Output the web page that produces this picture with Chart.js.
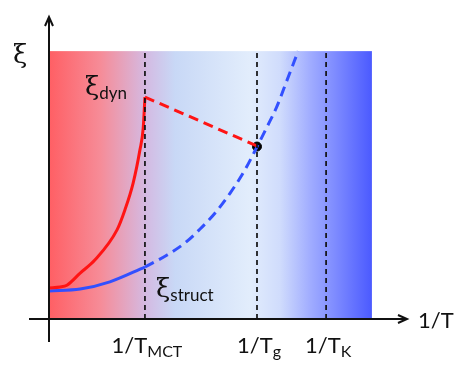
<!DOCTYPE html>
<html lang="en">
<head>
    <meta charset="UTF-8">
    <title>xi vs 1/T</title>
    <script src="https://cdn.jsdelivr.net/npm/chart.js@4.4.0/dist/chart.umd.min.js"></script>
    <style>
        html, body { margin: 0; padding: 0; background: #fff; }
        #wrap { width: 463px; height: 372px; }
    </style>
</head>
<body>
    <div id="wrap"><canvas id="xiChart" width="463" height="372"></canvas></div>
    <script>
        // data, arbitrary units (x = 1/T, y = xi)
        const dynSolidX = [0, 0.31, 0.5, 0.87, 1.28, 1.9, 2.12, 2.35, 2.54, 2.63, 2.68]
        const dynSolidY = [1.03, 1.06, 1.12, 1.52, 1.95, 2.95, 3.61, 4.5, 5.6, 6.3, 7.35]
        const dynDashX = [2.68, 5.81]
        const dynDashY = [7.35, 5.73]
        const structSolidX = [0, 0.87, 1.7, 2.68]
        const structSolidY = [0.93, 0.99, 1.23, 1.72]
        const structDashX = [2.68, 3.3, 3.8, 4.22, 4.64, 5.06, 5.47, 5.81, 6.09, 6.37, 6.65, 6.96]
        const structDashY = [1.72, 2.12, 2.52, 2.98, 3.51, 4.17, 4.93, 5.7, 6.36, 7.05, 7.91, 8.87]
        const crossing = [5.81, 5.71]
        const tempMarks = [2.68, 5.81, 7.74]
        const tempNames = ["MCT", "g", "K"]
        const regionRight = 9.02
        const regionTop = 8.87

        const pts = (xs, ys) => xs.map((x, i) => ({ x: x, y: ys[i] }))
        const vline = (x) => [{ x: x, y: 0 }, { x: x, y: regionTop }]

        const FONT = "Lato, 'Open Sans', sans-serif"
        const XI_FONT = "'DejaVu Serif', 'Liberation Serif', serif"

        let datasets = tempMarks.map(x => ({
            data: vline(x), borderColor: '#111', borderWidth: 1.7, borderDash: [5, 4],
            pointRadius: 0, showLine: true
        }))
        datasets.push(
            { data: pts(dynSolidX, dynSolidY), borderColor: 'rgb(255,20,20)', borderWidth: 3, pointRadius: 0, showLine: true, cubicInterpolationMode: 'monotone' },
            { data: pts(dynDashX, dynDashY), borderColor: 'rgb(255,20,20)', borderWidth: 3, borderDash: [10, 6], pointRadius: 0, showLine: true },
            { data: pts(structSolidX, structSolidY), borderColor: 'rgb(50,80,255)', borderWidth: 3, pointRadius: 0, showLine: true, cubicInterpolationMode: 'monotone' },
            { data: pts(structDashX, structDashY), borderColor: 'rgb(50,80,255)', borderWidth: 3, borderDash: [10, 6], pointRadius: 0, showLine: true, cubicInterpolationMode: 'monotone' },
            { data: [{ x: crossing[0], y: crossing[1] }], backgroundColor: '#000', borderColor: '#000', pointRadius: 4.5 }
        )

        // background gradient band
        const bandPlugin = {
            id: 'band',
            beforeDatasetsDraw(chart) {
                const { ctx, scales: { x, y } } = chart
                const l = x.getPixelForValue(0), r = x.getPixelForValue(regionRight)
                const t = y.getPixelForValue(regionTop), b = y.getPixelForValue(0)
                const g = ctx.createLinearGradient(l, 0, r, 0)
                g.addColorStop(0, 'rgb(255,95,100)')
                g.addColorStop(0.16, 'rgb(246,140,152)')
                g.addColorStop(0.30, 'rgb(212,186,226)')
                g.addColorStop(0.39, 'rgb(200,216,246)')
                g.addColorStop(0.62, 'rgb(226,237,252)')
                g.addColorStop(0.715, 'rgb(208,220,252)')
                g.addColorStop(0.81, 'rgb(160,172,255)')
                g.addColorStop(1, 'rgb(75,90,255)')
                ctx.save()
                ctx.fillStyle = g
                ctx.fillRect(l, t, r - l, b - t)
                ctx.restore()
            }
        }

        function subText(ctx, x, y, main, sub, mainFont, subFont, align, drop) {
            ctx.font = mainFont
            const w1 = ctx.measureText(main).width
            ctx.font = subFont
            const w2 = ctx.measureText(sub).width
            let start = x
            if (align === 'center') start = x - (w1 + w2) / 2
            ctx.textAlign = 'left'
            ctx.textBaseline = 'alphabetic'
            ctx.font = mainFont
            ctx.fillText(main, start, y)
            ctx.font = subFont
            ctx.fillText(sub, start + w1, y + drop)
        }

        // axes with arrows + labels
        const axesPlugin = {
            id: 'axes',
            afterDraw(chart) {
                const { ctx, chartArea: a, scales: { x, y } } = chart
                const x0 = x.getPixelForValue(0), y0 = y.getPixelForValue(0)
                ctx.save()
                ctx.strokeStyle = '#111'
                ctx.fillStyle = '#111'
                ctx.lineWidth = 2
                ctx.beginPath()
                ctx.moveTo(x0, y0 + 23); ctx.lineTo(x0, a.top)
                ctx.moveTo(x0 - 20, y0); ctx.lineTo(a.right, y0)
                ctx.stroke()
                ctx.beginPath()
                ctx.moveTo(x0 - 4, a.top + 9); ctx.lineTo(x0, a.top); ctx.lineTo(x0 + 4, a.top + 9)
                ctx.moveTo(a.right - 9, y0 - 4); ctx.lineTo(a.right, y0); ctx.lineTo(a.right - 9, y0 + 4)
                ctx.stroke()

                // tick labels
                tempMarks.forEach((v, i) => {
                    subText(ctx, x.getPixelForValue(v) + 2, y0 + 34, '1/T', tempNames[i],
                        '22px ' + FONT, '16px ' + FONT, 'center', 4)
                })
                // axis titles
                ctx.font = '22px ' + FONT
                ctx.textAlign = 'left'
                ctx.fillText('1/T', a.right + 11, y0 + 9)
                ctx.font = '26px ' + XI_FONT
                ctx.fillText('ξ', 13, 63)
                // curve labels
                subText(ctx, 85, 95, 'ξ', 'dyn', '26px ' + XI_FONT, '17px ' + FONT, 'left', 4)
                subText(ctx, 156, 297, 'ξ', 'struct', '26px ' + XI_FONT, '17px ' + FONT, 'left', 4)
                ctx.restore()
            }
        }

        new Chart(document.getElementById('xiChart').getContext('2d'), {
            type: 'scatter',
            data: { datasets: datasets },
            options: {
                responsive: false,
                animation: false,
                layout: { padding: { left: 49, top: 17, right: 56, bottom: 53 } },
                plugins: { legend: { display: false }, tooltip: { enabled: false } },
                scales: {
                    x: { type: 'linear', min: 0, max: 10, display: false },
                    y: { type: 'linear', min: 0, max: 10, display: false }
                }
            },
            plugins: [bandPlugin, axesPlugin]
        })
    </script>
</body>
</html>
